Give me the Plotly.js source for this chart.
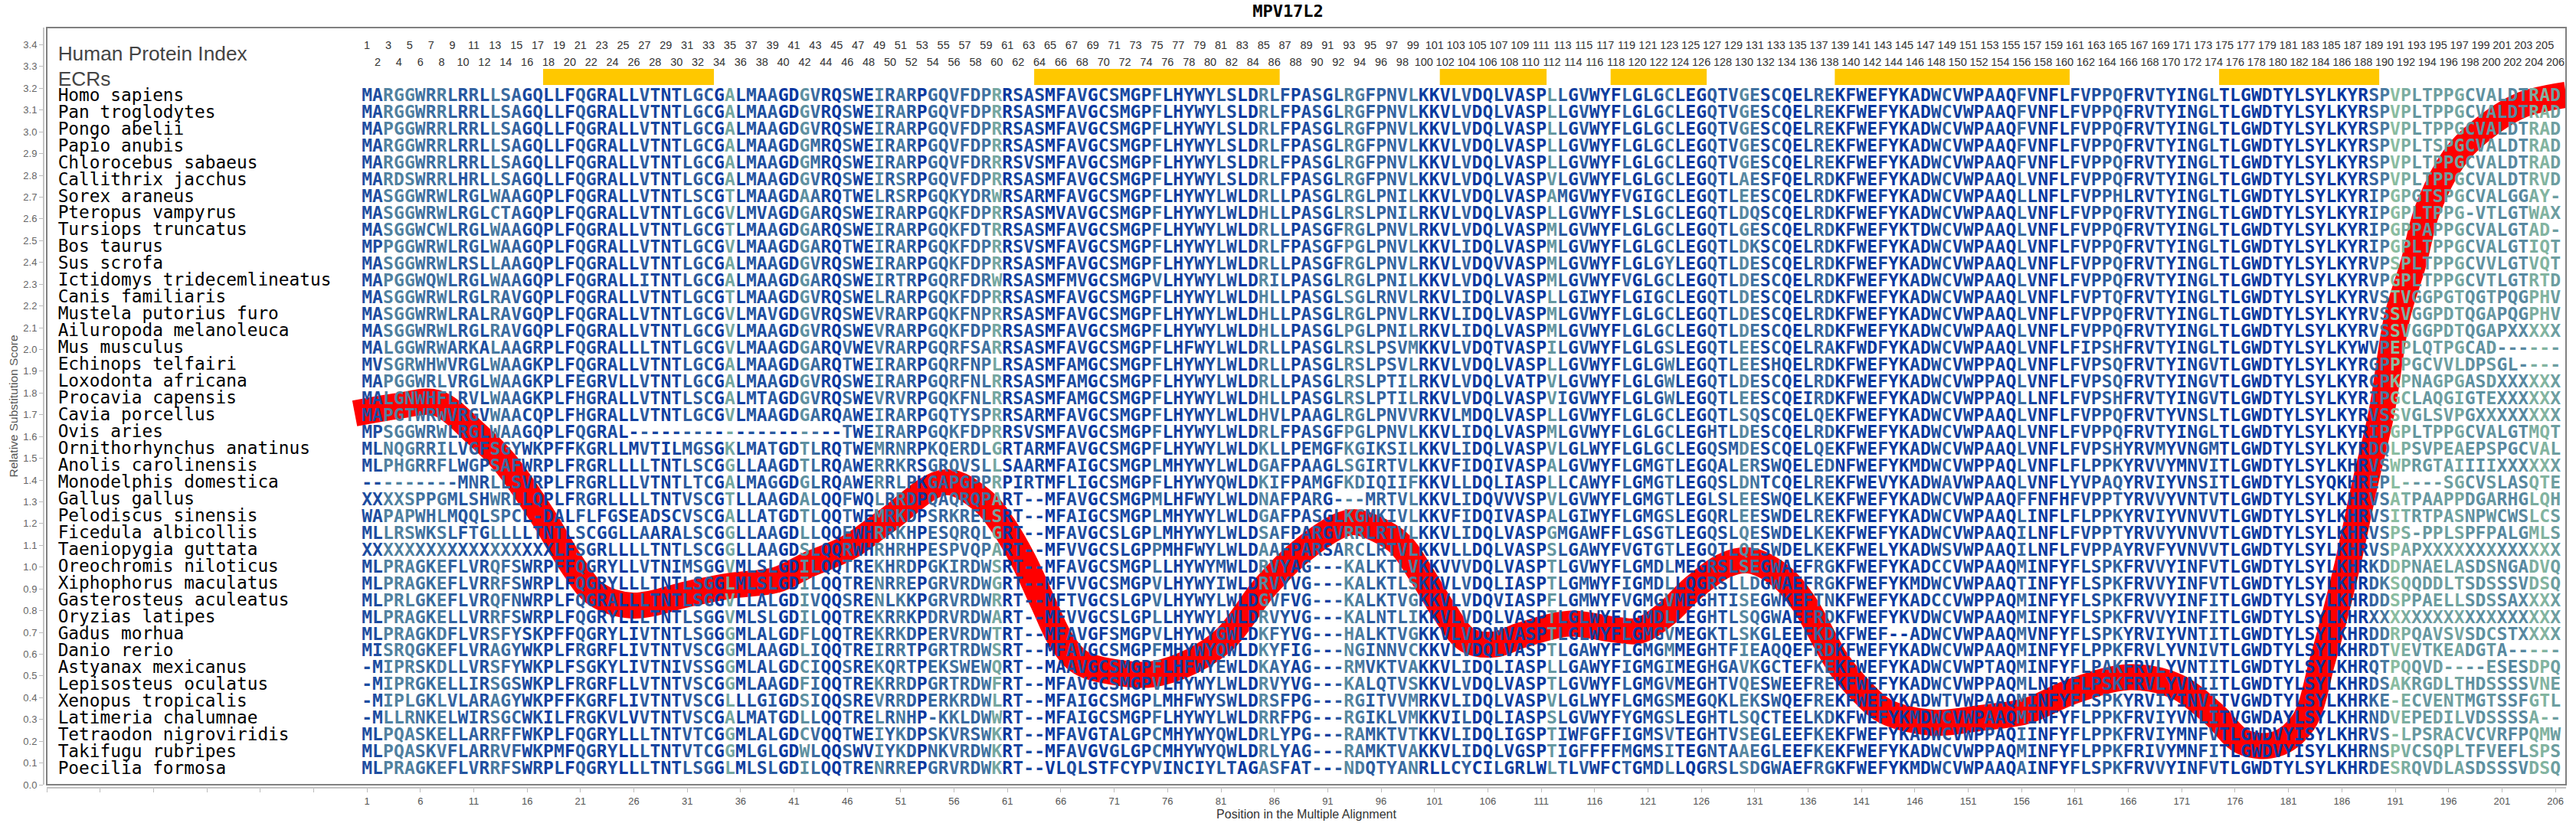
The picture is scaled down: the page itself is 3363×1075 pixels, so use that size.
<!DOCTYPE html>
<html><head><meta charset="utf-8">
<script src="https://cdn.plot.ly/plotly-3.0.1.min.js"></script>
<style>html,body{margin:0;padding:0;background:#fff}</style></head>
<body><div id="chart"></div>
<script>
const species = ["Homo sapiens","Pan troglodytes","Pongo abelii","Papio anubis","Chlorocebus sabaeus","Callithrix jacchus","Sorex araneus","Pteropus vampyrus","Tursiops truncatus","Bos taurus","Sus scrofa","Ictidomys tridecemlineatus","Canis familiaris","Mustela putorius furo","Ailuropoda melanoleuca","Mus musculus","Echinops telfairi","Loxodonta africana","Procavia capensis","Cavia porcellus","Ovis aries","Ornithorhynchus anatinus","Anolis carolinensis","Monodelphis domestica","Gallus gallus","Pelodiscus sinensis","Ficedula albicollis","Taeniopygia guttata","Oreochromis niloticus","Xiphophorus maculatus","Gasterosteus aculeatus","Oryzias latipes","Gadus morhua","Danio rerio","Astyanax mexicanus","Lepisosteus oculatus","Xenopus tropicalis","Latimeria chalumnae","Tetraodon nigroviridis","Takifugu rubripes","Poecilia formosa"];
const segA = ["MARGGWRRLRRLLSAGQLLFQGRA","MARGGWRRLRRLLSAGQLLFQGRA","MAPGGWRRLRRLLSAGQLLFQGRA","MARGGWRRLRRLLSAGQLLFQGRA","MARGGWRRLRRLLSAGQLLFQGRA","MARDSWRRLHRLLSAGQLLFQGRA","MASGGWRWLRGLWAAGQPLFQGRA","MASGGWRWLRGLCTAGQPLFQGRA","MASGGWCWLRGLWAAGQPLFQGRA","MPPGGWRWLRGLWAAGQPLFQGRA","MASGGWRWLRSLLAAGQPLFQGRA","MAPGGWQWLRGLWAAGQPLFQGRA","MASGGWRWLRGLRAVGQPLFQGRA","MASGGWRWLRALRAVGQPLFQGRA","MASGGWRWLRGLRAVGQPLFQGRA","MALGGWRWARKALAAGRPLFQGRA","MVSGRWHWVRGLWAAGKPLFQGRA","MAPGGWRLVRGLWAAGKPLFEGRV","MALGNWHFLRVLWAAGKPLFHGRA","MAPGTWRWVRGVWAACQPLFHGRA","MPSGGWRWLRGLWAAGQPLFQGRA","MLNQGRRILVGFSGYWKPFFKGRL","MLPHGRRFLWGPSAFWRPLFRGRL","---------MNRLLSVRPLFRGRL","XXXXSPPGMLSHWRLLQPLFRGRL","WAPAPWHLMQQLSPCL-DALFLFG","MLLRSWKSLFTGLLLLTNTLSCGG","XXXXXXXXXXXXXXXXXXLFSGRL","MLPRAGKEFLVRQFSWRPFFQGRY","MLPRAGKEFLVRRFSWRPLFQGRY","MLPRLGKEFLVRQFNWRPLFQGRA","MLPRAGKELLVRRFSWRPLFQGRY","MLPRAGKDFLVRSFYSKPFFQGRY","MISRQGKEFLVRAGYWKPLFRGRF","-MIPRSKDLLVRSFYWKPLFSGKY","-MIPRGKELLIRSGSWKPLFRGRF","-MIPLGKLVLARAGYWKPFFKGRF","-MLLRNKELWIRSGCWKILFRGKV","MLPQASKELLARRFFWKPLFQGRY","MLPQASKVFLARRVFWKPMFQGRY","MLPRAGKEFLVRRFSWRPLFQGRY"];
const segB = ["LLVTNTLGCGALMAAGDGVRQSWEIRARPGQVFDPRRSASMFAVGCSMGPFLHYWYL","LLVTNTLGCGALMAAGDGVRQSWEIRARPGQVFDPRRSASMFAVGCSMGPFLHYWYL","LLVTNTLGCGALMAAGDGVRQSWEIRARPGQVFDPRRSASMFAVGCSMGPFLHYWYL","LLVTNTLGCGALMAAGDGMRQSWEIRARPGQVFDPRRSASMFAVGCSMGPFLHYWYL","LLVTNTLGCGALMAAGDGMRQSWEIRARPGQVFDRRRSVSMFAVGCSMGPFLHYWYL","LLVTNTLGCGALMAAGDGVRQSWEIRSRPGQVFDPRRSASMFAVGCSMGPFLHYWYL","LLVTNTLSCGTLMAAGDAARQTWELRSRPGQKYDRWRSARMFAVGCSMGPFLHYWYL","LLVTNTLGCGVLMVAGDGARQSWEIRARPGQKFDPRRSASMVAVGCSMGPFLHYWYL","LLVTNTLGCGTLMAAGDGARQSWEIRARPGQKFDTRRSASMFAVGCSMGPFLHYWYL","LLVTNTLGCGVLMAAGDGARQTWEIRARPGQKFDPRRSVSMFAVGCSMGPFLHYWYL","LLVTNTLGCGALMAAGDGVRQSWEIRARPGQKFDPRRSASMFAVGCSMGPFLHYWYL","LLITNTLGCGALMAAGDGARQSWEIRTRPGQRFDRWRSASMFMVGCSMGPVLHYWYL","LLVTNTLGCGTLMAAGDGVRQSWELRARPGQKFDPRRSASMFAVGCSMGPFLHYWYL","LLVTNTLGCGVLMAVGDGVRQSWEVRARPGQKFNPRRSASMFAVGCSMGPFLHYWYL","LLVTNTLGCGVLMAAGDGVRQSWEVRARPGQKFDPRRSASMFAVGCSMGPFLHYWYL","LLLTNTLGCGVLMAAGDGARQVWEVRARPGQRFSARRSASMFAVGCSMGPFLHFWYL","LLVTNTLGCGALMAAGDGARQTWEIRARPGQRFNPLRSASMFAMGCSMGPFLHYWYL","LLVTNTLGCGALMAAGDGVRQSWEIRARPGQRFNLRRSASMFAMGCSMGPFLHYWYL","LLVTNTLSCGALMTAGDGVRQSWEVRVRPGQKFNLRRSASMFAMGCSMGPFLHYWYL","LLVTNTLGCGVLMAAGDGARQAWEIRARPGQTYSPRRSARMFAVGCSMGPFLHYWYL","L--------------------TWEIRARPGQKFDPRRSVSMFAVGCSMGPFLHYWYL","LMVTILMGSGKLMATGDTLRQTWEMRNRPKQERDLGRTARMFAVGCSMGPFLHYWYL","LLLTNTLSCGGLLAAGDTLRQAWERRKRSGRQVSLLSAARMFAIGCSMGPLMHYWYL","LLVTNTLTCGALMAGGDGLRQAWERRLPKGAPGPPRPIRTMFLIGCSMGPFLHYWYQ","LLLTNTVSCGTLLAAGDALQQFWQLRRDPQAQRQPART--MFAVGCSMGPMLHFWYL","SEADSCVSCGALLATGDTLQQTWEMRKDPSRKRELSRT--MFAIGCSMGPLMHYWYL","LLAARALSCGGLLAAGDLLQQEWHRRKHPESQRQLGRT--MFAVGCSLGPLMHYWYL","LLLTNTLSCGGLLAAGDSLQQRWHRHRHPESPVQPART--MFVVGCSLGPPMHFWYL","LLVTNIMSGGVMLSLGDILQQTREKHRDPGKIRDWSRT--MFAVGCSMGPLLHYWYM","LLLTNTLSGGLMLSLGDILQQTRENRREPGRVRDWGRT--MFVVGCSMGPVLHYWYI","LLLTNTLSGGVLLALGDIVQQSRENLKKPGRVRDWRRT--MFTVGCSLGPVLHYWYL","LLLTNTLSGGVMLSLGDILQQTREKRRKPDRVRDWART--MFVVGCSLGPLLHYWYL","LIVTNTLSGGGMLALGDFLQQTREKRKDPERVRDWTRT--MFAVGFSMGPVLHYWYG","LIVTNTVSCGGMLAAGDLIQQTREIRRTPGRTRDWSRT--MFAVGCSMGPFMHYWYQ","LIVTNIVSSGGMLALGDCIQQSREKQRTPEKSWEWQRT--MAAVGCSMGPFLHFWYE","LLVTNTVSCGGMLAAGDFIQQTREKRRDPGRTRDWFRT--MFAVGCSMGPVLHYWYL","LIVTNTVSCGLLLGIGDSIQQSREVRRDPERKRDWLRT--MFAIGCSMGPLMHFWYS","LVVTNTVSCGALMATGDLLQQTRELRNHP-KKLDWWRT--MFAIGCSMGPFLHYWYL","LLLTNTVTCGGMLALGDCVQQTWEIYKDPSKVRSWKRT--MFAVGTALGPCMHYWYQ","LLLTNTVTCGGMLGLGDWLQQSWVIYKDPNKVRDWKRT--MFAVGVGLGPCMHYWYQ","LLLTNTLSGGLMLSLGDILQQTRENRREPGRVRDWKRT--VLQLSTFCYPVINCIYL"];
const segC = ["SLDRLFPASGLRGFPNVLKKVLVDQLVASPLLGVWYFLGLGCLEGQTVGESCQELRE","SLDRLFPASGLRGFPNVLKKVLVDQLVASPLLGVWYFLGLGCLEGQTVGESCQELRE","SLDRLFPASGLRGFPNVLKKVLVDQLVASPLLGVWYFLGLGCLEGQTVGESCQELRE","SLDRLFPASGLRGFPNVLKKVLVDQLVASPLLGVWYFLGLGCLEGQTVGESCQELRE","SLDRLFPASGLRGFPNVLKKVLVDQLVASPLLGVWYFLGLGCLEGQTVGESCQELRE","SLDRLFPASGLRGFPNVLKKVLVDQLVASPVLGVWYFLGLGCLEGQTLAESFQELRD","WLDRLLPASGLRGLPNILKKVLVDQLVASPAMGVWYFVGIGCLEGQTLEESCQELRD","WLDHLLPASGLRSLPNILRKVLVDQLVASPLLGVWYFLSLGCLEGQTLDQSCQELRD","WLDRLLPASGFRGLPNVLRKVLVDQLVASPMLGVWYFLGLGCLEGQTLGESCQELRD","WLDRLFPASGFPGLPNVLKKVLIDQLVASPMLGVWYFLGLGCLEGQTLDKSCQELRD","WLDRLLPASGFRGLPNVLRKVLVDQVVASPMLGVWYFLGLGYLEGQTLDESCQELRD","WLDRILPASGLRGLPNILKKVLVDQLVASPMLGVWYFVGLGCLEGQTLDESCQELRD","WLDHLLPASGLSGLRNVLRKVLIDQLVASPLLGIWYFLGIGCLEGQTLDESCQELRD","WLDHLLPASGLRGLPNVLRKVLIDQLVASPMLGVWYFLGLGCLEGQTLDESCQELRD","WLDHLLPASGLPGLPNILRKVLIDQLVASPMLGVWYFLGLGCLEGQTLDESCQELRD","WLDRLLPASGLRSLPSVMKKVLVDQTVASPILGVWYFLGLGSLEGQTLEESCQELRA","WLDRLLPASGLRSLPSVLRKVLVDQLVASPLLGVWYFLGLGWLEGQTLEESHQELRD","WLDRLLPASGLRSLPTILRKVLVDQLVATPVLGVWYFLGLGWLEGQTLDESCQELRD","WLDHLLPASGLRSLPTILRKVLVDQLVASPVIGVWYFLGLGWLEGQTLEESCQEIRD","WLDHVLPAAGLRGLPNVVRKVLMDQLVASPLLGVWYFLGLGCLEGQTLSQSCQELQE","WLDRLFPASGFPGLPNVLKKVLIDQLVASPMLGVWYFLGLGCLEGHTLDESCQELRD","WLDKLLPEMGFKGIKSILKKVLIDQLVASPVLGLWYFLGLGCLEGQSMDESCQELQE","WLDGAFPAAGLSGIRTVLKKVFIDQIVASPALGVWYFLGMGTLEGQALERSWQELED","WLDKIFPAMGFKDIQIIFKKVLLDQLIASPLLCAWYFLGMGTLEGQSLDNTCQELRE","WLDNAFPARG---MRTVLKKVLIDQVVVSPVLGVWYFLGMGTLEGLSLEESWQELKE","WLDGAFPASGLKGMKIVLKKVFIDQIVASPALGIWYFLGMGSLEGQRLEESWDELRE","WLDSAFPARGVRRLRTVLKKVLIDQLVASPGMGAWFFLGSGTLEGQSLQESWDELKE","WLDAAFPARSARCLRTVLKKVLLDQLVASPSLGAWYFVGTGTLEGQTLQESWDELKE","WLDRVYAG---KALKTLVKKVVVDQLVASPTLGVWYFLGMDLMEGRSLSEGWAEFRG","WLDRVYVG---KALKTLSKKVLVDQLIASPTLGMWYFIGMDLLQGRSLLDGWAEFRG","WLDGVFVG---KALKTVGKKVLVDQVIASPFLGMWYFVGMGVMEGHTISEGWKEFTN","WLDRVYVG---KALNTLIKKVLVDQLVASPTLGLWYFLGMDLLEGHTLSQGWAEFRD","WLDKFYVG---HALKTVGKKVLVDQMVASPTLGLWYFLGMGVMEGKTLSKGLEEFKD","WLDKYFIG---NGINNVCKKVLVDQLVASPTLGAWYFLGMGMMEGHTFIEAQQEFRD","WLDKAYAG---RMVKTVAKKVLIDQLIASPLLGAWYFIGMGIMEGHGAVKGCTEFKE","WLDRVYVG---KALQTVSKKVLVDQLVASPTLGVWYFLGMGVMEGHTVQESWEEFRE","WLDRSFPG---RGITVVMRKVLIDQLVASPVLGLWYFLGMGSMEGQKLEKSWQEFRE","WLDRRFPG---RGIKLVMKKVILDQLIASPSLGVWYFYGMGSLEGHTLSQCTEELKD","WLDRLYPG---RAMKTVTKKVLIDQLIGSPTIWFGFFIGMSVTEGHTVSEGLEEFKE","WLDRLYAG---RAMKTVAKKVLIDQLVGSPTIGFFFFMGMSITEGNTAAEGLEEFKE","TAGASFAT---NDQTYANRLLCYCILGRLWLTLVWFCTGMDLLQGRSLSDGWAEFRG"];
const segD = ["KFWEFYKADWCVWPAAQFVNFLFVPPQFRVTYINGLTLGWDTYLSYLKYRSPVPLTPPGCVALDTRAD","KFWEFYKADWCVWPAAQFVNFLFVPPQFRVTYINGLTLGWDTYLSYLKYRSPVPLTPPGCVALDTRAD","KFWEFYKADWCVWPAAQFVNFLFVPPQFRVTYINGLTLGWDTYLSYLKYRSPVPLTPPGCVALDTRAD","KFWEFYKADWCVWPAAQFVNFLFVPPQFRVTYINGLTLGWDTYLSYLKYRSPVPLTSPGCVALDTRAD","KFWEFYKADWCVWPAAQFVNFLFVPPQFRVTYINGLTLGWDTYLSYLKYRSPVPLTPPGCVALDTRAD","KFWEFYKADWCVWPAAQLVNFLFVPPQFRVTYINGLTLGWDTYLSYLKYRSPVPLTPPGCVALDTRVD","KFWEFYKADWCVWPAAQLLNFLFVPPHLRVTYINGLTLGWDTYLSYLKYRIPGPGTSPGCVALGGAY-","KFWEFYKADWCVWPAAQLVNFLFVPPQFRVTYINGLTLGWDTYLSYLKYRIPGPLTPPG-VTLGTWAX","KFWEFYKTDWCVWPAAQLVNFLFVPPQFRVTYINGLTLGWDTYLSYLKYRIPGPPAPPGCVALGTAD-","KFWEFYKADWCVWPAAQLVNFLFVPPQFRVTYINGLTLGWDTYLSYLKYRIPGPLTPPGCVALGTIQT","KFWEFYKADWCVWPAAQLVNFLFVPPQFRVTYINGLTLGWDTYLSYLKYRVPSPLTPPGCVVLGTVQT","KFWEFYKADWCVWPAAQLVNFLFVPPQFRVTYINGLTLGWDTYLSYLKYRVPGPLTPPGCVTLGTRTD","KFWEFYKADWCVWPAAQLVNFLFVPTQFRVTYINGLTLGWDTYLSYLKYRVSTVGGPGTQGTPQGPHV","KFWEFYKADWCVWPAAQLVNFLFVPPQFRVTYINGLTLGWDTYLSYLKYRVSSVGGPDTQGAPQGPHV","KFWEFYKADWCVWPAAQLVNFLFVPPQFRVTYINGLTLGWDTYLSYLKYRVSSVGGPDTQGAPXXXXX","KFWDFYKADWCVWPAAQLVNFLFIPSHFRVTYINGLTLGWDTYLSYLKYWVPEPLQTPGCAD------","KFWEFYKADWCVWPPAQLVNFLFVPSQFRVTYINGVTLGWDTYLSYLKYRGPPPGCVVLDPSGL----","KFWEFYKADWCVWPPAQLVNFLFVPSQFRVTYINGVTLGWDTYLSYLKYRCPKPNAGPGASDXXXXXX","KFWEFYKADWCVWPPAQLLNFLFVPSHFRVTYINGVTLGWDTYLSYLKYRIPGCLAQGIGTEXXXXXX","KFWEFYKADWCVWPAAQLVNFLFVPPQFRVTYVNSLTLGWDTYLSYLKYRVSSVGLSVPGXXXXXXXX","KFWEFYKADWCVWPAAQLVNFLFVPPQFRVTYINGLTLGWDTYLSYLKYRIPGPLTPPGCVALGTMQT","KFWEFYKADWCVWPAAQLVNFLFVPSHYRVMYVNGMTLGWDTYLSYLKYRDQLPSVPEAEPSPGCVAL","NFWEFYKMDWCVWPPAQLVNFLFLPPKYRVVYMNVITLGWDTYLSYLKHRVSWPRGTAIIIIXXXXXX","KFWEVYKADWAVWPAAQLVNFLYVPAQYRVIYVNSITLGWDTYLSYQKHREPL----SGCVSLASQTE","KFWEFYKADWCVWPAAQFFNFHFVPPTYRVVYVNTVTLGWDTYLSYLKHRVSATPAAPPDGARHGLQH","KFWEFYKADWCVWPAAQLINFLFLPPKYRVIYVNVVTLGWDTYLSYLKHRVSITRTPASNPWCWSLCS","KFWEFYKADWCVWPAAQILNFLFVPPTYRVVYVNVVTLGWDTYLSYLKHRVSPS-PPLSPFPALGMLS","KFWELYKADWSVWPAAQILNFLFVPPAYRVFYVNVVTLGWDTYLSYLKHRVSPAPXXXXXXXXXXXXX","KFWEFYKADCCVWPAAQMINFYFLSPKFRVVYINFVTLGWDTYLSYLKHRKDDPNAELASDSNGADVQ","KFWEFYKMDWCVWPAAQTINFYFLSPKFRVVYINFVTLGWDTYLSYLKHRDKSQQDDLTSDSSSVDSQ","KFWEFYKADCCVWPPAQMINFYFLSPKFRVVYINFITLGWDTYLSYLKHRDDSPPAELLSDSSAXXXX","KFWEFYKVDWCVWPAAQMINFYFLSPKFRVVYINFITLGWDTYLSYLKHRXXXXXXXXXXXXXXXXXX","KFWEF--ADWCVWPAAQMVNFYFLSPKYRVIYVNTITLGWDTYLSYLKHRDDRPQAVSVSDCSTXXXX","KFWEFYKADWCVWPAAQMINFYFLPPKFRVLYVNIVTLGWDTYLSYLKHRDTVEVTKEADGTA-----","KFWEFYKADWCVWPTAQMINFYFLPAKFRVLYVNTITLGWDTYLSYLKHRQTPQQVD----ESESDPQ","KFWEFYKADWCVWPPAQMLNFYFLPSKFRVLYVNIITLGWDTYLSYLKHRDSAKRGDLTHDSSSSVNE","KFWEFYKADWTVWPAAQMINFYFLSPKYRVIYINVITVGWDTYLSYLKHRKE-ECVENTMGTSSFGTL","KFWEFYKMDWCVWPAAQMINFYFLPPKFRVIYVNLITVGWDAYLSYLKHRNDVEPEDILVDSSSSA--","KFWEFYKADWCVWPPAQIINFYFLPPKFRVIYMNFVTLGWDVYISYLKHRVS-LPSRACVCVRFPQMW","KFWEFYKADWCVWPPAQMINFYFLPPKFRIVYMNFITLGWDVYISYLKHRNSPVCSQPLTFVEFLSPS","KFWEFYKMDWCVWPAAQAINFYFLSPKFRVVYINFVTLGWDTYLSYLKHRDESRQVDLASDSSSVDSQ"];
const columnLevel = [20,20,55,55,55,45,40,50,35,25,35,20,50,40,35,15,20,10,20,5,30,20,10,20,
5,10,30,15,10,15,30,30,30,5,80,10,25,20,30,5,5,65,40,10,5,40,10,10,60,30,50,30,5,40,35,45,40,35,45,80,5,15,20,15,5,10,20,20,5,10,20,15,10,10,45,10,10,15,15,20,30,
20,5,5,60,40,25,10,20,30,10,30,60,50,30,35,35,40,55,10,5,10,20,35,5,10,20,10,10,10,5,70,30,10,30,10,10,5,35,5,20,20,50,10,5,5,30,20,30,60,45,10,30,10,5,15,35,35,
5,10,10,5,15,5,5,15,5,20,30,10,15,5,20,10,5,40,15,5,5,5,20,20,20,30,35,15,10,15,30,10,10,10,20,30,5,5,5,5,5,5,5,5,5,5,5,5,10,5,35,50,95,85,70,70,75,75,80,65,65,70,60,60,60,85,90,75];
const ecrStart = [17.5,63.5,101.5,117.5,138.5,174.5];
const ecrEnd = [33.5,86.5,111.5,126.5,160.5,189.5];
const scorePos = [-0.15,3.9,7.5,11.2,13.9,17.4,20.4,22.45,25.9,31.3,35,39.4,42.3,46,49.6,55.2,58.8,60.6,62.5,64.3,66.1,67.9,71.6,74.5,78.2,81.4,85.1,88.7,92.4,93.8,97.5,99.7,101.9,104.1,106.7,109.2,113.6,118,120.2,122.7,125.3,128.3,130.5,133.4,135.6,138.8,141,143.2,147.6,152,156.4,160.8,166.1,170.5,174,176.7,179.8,182.4,184.2,186.4,188.2,189.7,191.2,192.7,194,196.5,198.9,202.7,207];
const scoreVal = [1.706,1.74,1.755,1.614,1.481,1.238,0.997,0.876,0.823,0.879,0.914,0.942,1.01,1.087,1.21,1.39,1.30,1.19,1.03,0.84,0.657,0.56,0.513,0.507,0.566,0.67,0.907,1.08,1.196,1.205,1.118,0.972,0.798,0.664,0.645,0.688,0.74,0.712,0.708,0.785,0.907,1.01,1.03,0.96,0.834,0.56,0.43,0.338,0.285,0.306,0.338,0.43,0.494,0.452,0.324,0.197,0.186,0.288,0.572,0.985,1.39,1.706,2.153,2.395,2.638,2.879,3.0,3.12,3.17];

const rows = species.map((_, i) => segA[i] + segB[i] + segC[i] + segD[i]);

const rowY = i => 3.163 - 0.07738 * i;
const mix = l => {
  const t = l / 100;
  return 'rgb(' + Math.round(0 + 145 * t) + ',' + Math.round(48 + 147 * t) + ',160)';
};
const lx = [], ly = [], lt = [], lc = [];
rows.forEach((r, i) => {
  for (let c = 0; c < 206; c++) {
    lx.push(c + 1); ly.push(rowY(i)); lt.push(r[c] || ''); lc.push(mix(columnLevel[c]));
  }
});
const numOddX = [], numEvenX = [];
for (let n = 1; n <= 206; n++) (n % 2 ? numOddX : numEvenX).push(n);
const xTicks = [], xLabels = [];
for (let v = -29; v <= 206; v += 5) { xTicks.push(v); xLabels.push(v >= 1 ? String(v) : ''); }
const yTicks = [], yLabels = [];
for (let k = 0; k <= 34; k++) { yTicks.push(k / 10); yLabels.push((k / 10).toFixed(1)); }

const MONO = '"DejaVu Sans Mono", monospace';
const SANS = '"Liberation Sans", Arial, sans-serif';
const traces = [
  { type: 'bar', x: ecrStart.map((s, i) => (s + ecrEnd[i]) / 2), width: ecrStart.map((s, i) => ecrEnd[i] - s),
    y: ecrStart.map(() => 0.074), base: ecrStart.map(() => 3.215), marker: { color: '#FFC800', line: { width: 0 } }, hoverinfo: 'skip' },
  { type: 'scatter', mode: 'lines', x: scorePos, y: scoreVal, line: { color: '#FF0000', width: 34, shape: 'spline', smoothing: 1 }, hoverinfo: 'skip' },
  { type: 'scatter', mode: 'text', x: lx, y: ly, text: lt, textposition: 'middle center',
    textfont: { family: MONO, size: 23, color: lc, weight: 'bold' }, hoverinfo: 'skip' },
  { type: 'scatter', mode: 'text', x: species.map(() => -27.95), y: species.map((_, i) => rowY(i)), text: species, textposition: 'middle right',
    textfont: { family: MONO, size: 22.8, color: '#000' }, hoverinfo: 'skip' },
  { type: 'scatter', mode: 'text', x: numOddX, y: numOddX.map(() => 3.394), text: numOddX.map(String), textposition: 'middle center',
    textfont: { family: SANS, size: 14.5, color: '#333' }, hoverinfo: 'skip' },
  { type: 'scatter', mode: 'text', x: numEvenX, y: numEvenX.map(() => 3.317), text: numEvenX.map(String), textposition: 'middle center',
    textfont: { family: SANS, size: 14.5, color: '#333' }, hoverinfo: 'skip' },
  { type: 'scatter', mode: 'text', x: [-27.95, -27.95], y: [3.352, 3.236], text: ['Human Protein Index', 'ECRs'], textposition: 'middle right',
    textfont: { family: SANS, size: 26.3, color: '#444' }, hoverinfo: 'skip' }
];
const layout = {
  width: 3363, height: 1075, showlegend: false, hovermode: false, paper_bgcolor: '#fff', plot_bgcolor: '#fff', barmode: 'overlay',
  margin: { l: 57, r: 13, t: 36, b: 46, pad: 0 },
  title: { text: 'MPV17L2', x: 0.5, xanchor: 'center', y: 0.987, yanchor: 'middle',
    font: { family: MONO, size: 22, color: '#000', weight: 'bold' } },
  xaxis: { domain: [4 / 3293, 1], range: [-29, 207], anchor: 'free', position: 0, tickmode: 'array', tickvals: xTicks, ticktext: xLabels,
    ticks: 'outside', ticklen: 5, tickcolor: '#bbb', showgrid: false, zeroline: false, showline: true, linecolor: '#c4c4c4', linewidth: 2,
    tickfont: { family: SANS, size: 13, color: '#555' },
    title: { text: 'Position in the Multiple Alignment', font: { family: SANS, size: 16, color: '#333' }, standoff: 4 } },
  yaxis: { domain: [4 / 993, 1], range: [0, 3.479], anchor: 'free', position: 0, tickmode: 'array', tickvals: yTicks, ticktext: yLabels,
    ticks: 'outside', ticklen: 5, tickcolor: '#bbb', showgrid: false, zeroline: false, showline: true, linecolor: '#c4c4c4', linewidth: 2,
    tickfont: { family: SANS, size: 13, color: '#666' },
    title: { text: 'Relative Substitution Score', font: { family: SANS, size: 15.5, color: '#555' }, standoff: 2 } },
  shapes: [{ type: 'rect', xref: 'x domain', yref: 'y domain', x0: 0, x1: 1, y0: 0, y1: 1, line: { color: '#808080', width: 2 }, layer: 'above' }]
};
Plotly.newPlot('chart', traces, layout, { displayModeBar: false, staticPlot: true });
</script></body></html>
